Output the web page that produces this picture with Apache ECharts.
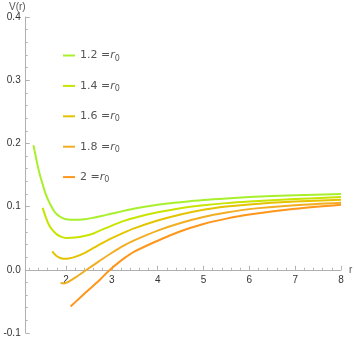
<!DOCTYPE html>
<html>
<head>
<meta charset="utf-8">
<script src="https://cdn.jsdelivr.net/npm/echarts@6/dist/echarts.min.js"></script>
<style>
  html, body { margin: 0; padding: 0; background: #fff; }
  #main { width: 354px; height: 340px; }
</style>
</head>
<body>
<div id="main"></div>
<script>
// r0 values for each curve (legend)
var r0Values = ['1.2', '1.4', '1.6', '1.8', '2'];
var colors = ['#a8f02c', '#c8e400', '#e4c400', '#f2ae22', '#fd961a'];

// curve samples: r and V(r)
var r1 = [1.29, 1.36, 1.43, 1.5, 1.56, 1.66, 1.76, 1.88, 2.0, 2.2, 2.4, 2.6, 2.8, 3.0, 3.5, 4, 4.5, 5, 5.5, 6, 7, 8];
var v1 = [0.197, 0.172, 0.150, 0.133, 0.119, 0.103, 0.091, 0.0835, 0.080, 0.079, 0.080, 0.0825, 0.0855, 0.089, 0.097, 0.103, 0.107, 0.1105, 0.113, 0.115, 0.118, 0.120];

var r2 = [1.49, 1.55, 1.62, 1.7, 1.8, 1.9, 2.0, 2.2, 2.4, 2.6, 2.8, 3.0, 3.25, 3.5, 4, 4.5, 5, 5.5, 6, 7, 8];
var v2 = [0.098, 0.085, 0.072, 0.063, 0.056, 0.052, 0.0505, 0.051, 0.0535, 0.0575, 0.064, 0.070, 0.077, 0.0825, 0.091, 0.0975, 0.102, 0.1055, 0.108, 0.112, 0.115];

var r3 = [1.70, 1.78, 1.86, 1.95, 2.05, 2.2, 2.4, 2.6, 2.8, 3.0, 3.25, 3.5, 4, 4.5, 5, 5.5, 6, 7, 8];
var v3 = [0.029, 0.0225, 0.019, 0.0175, 0.0178, 0.0205, 0.0265, 0.0345, 0.0425, 0.050, 0.0585, 0.066, 0.078, 0.0875, 0.095, 0.1, 0.1035, 0.108, 0.111];

var r4 = [1.88, 1.95, 2.05, 2.2, 2.45, 2.7, 3.0, 3.25, 3.5, 4, 4.5, 5, 5.5, 6, 7, 8];
var v4 = [-0.021, -0.0215, -0.019, -0.0125, 0.0, 0.0125, 0.027, 0.038, 0.047, 0.062, 0.074, 0.0835, 0.0905, 0.096, 0.102, 0.106];

var r5 = [2.10, 2.3, 2.52, 2.75, 2.96, 3.2, 3.5, 4, 4.5, 5, 5.5, 6, 7, 8];
var v5 = [-0.058, -0.0445, -0.030, -0.0148, 0.0, 0.0145, 0.029, 0.046, 0.061, 0.0725, 0.081, 0.0875, 0.0965, 0.103];

var xTicks = [2, 3, 4, 5, 6, 7, 8];
var xMinorTicks = [1.2, 1.4, 1.6, 1.8, 2.2, 2.4, 2.6, 2.8, 3.2, 3.4, 3.6, 3.8, 4.2, 4.4, 4.6, 4.8,
                   5.2, 5.4, 5.6, 5.8, 6.2, 6.4, 6.6, 6.8, 7.2, 7.4, 7.6, 7.8];

var rs = [r1, r2, r3, r4, r5];
var vs = [v1, v2, v3, v4, v5];

function pairs(r, v) {
  var out = [];
  for (var i = 0; i < r.length; i++) out.push([r[i], v[i]]);
  return out;
}

// grid box in pixels; the x axis is moved up to V = 0
var gridTop = 17, gridBottom = 7, H = 340;
var yMin = -0.1, yMax = 0.4;
var plotH = H - gridTop - gridBottom;
var zeroOffset = -plotH * (0 - yMin) / (yMax - yMin);

var myChart = echarts.init(document.getElementById('main'));

var legendRich = {
  n: { fontSize: 11, color: '#555', fontFamily: 'DejaVu Sans' },
  r: { fontSize: 11, color: '#555', fontStyle: 'italic', fontFamily: 'DejaVu Sans' },
  s: { fontSize: 8, color: '#555', fontFamily: 'DejaVu Sans', padding: [6, 0, 0, 0] }
};

var tickColor = '#b0b0b0';

var option = {
  animation: false,
  backgroundColor: '#fff',
  grid: { left: 25.7, right: 13, top: gridTop, bottom: gridBottom, containLabel: false, outerBoundsMode: 'none' },
  legend: r0Values.map(function (r0, i) {
    return {
      data: [r0 + ' =r0'],
      left: 58,
      top: 45 + i * 30.4,
      icon: 'rect',
      itemWidth: 12,
      itemHeight: 2,
      itemGap: 6,
      selectedMode: false,
      formatter: function () { return '{n|' + r0 + ' =}{r|r}{s|0}'; },
      textStyle: { rich: legendRich }
    };
  }),
  xAxis: [{
    type: 'value',
    min: 1.12,
    max: 8,
    offset: zeroOffset,
    name: 'r',
    nameLocation: 'end',
    nameGap: 8,
    nameTextStyle: { color: '#555', fontSize: 10, verticalAlign: 'middle' },
    axisLine: { onZero: false, lineStyle: { color: tickColor } },
    axisTick: { inside: true, length: 4, customValues: xTicks, lineStyle: { color: tickColor } },
    axisLabel: { customValues: xTicks, color: '#333', fontSize: 10, margin: 5 },
    splitLine: { show: false }
  }, {
    type: 'value',
    min: 1.12,
    max: 8,
    position: 'bottom',
    offset: zeroOffset,
    axisLine: { show: false, onZero: false },
    axisTick: { inside: true, length: 2, customValues: xMinorTicks, lineStyle: { color: tickColor } },
    axisLabel: { show: false },
    splitLine: { show: false }
  }],
  yAxis: {
    type: 'value',
    min: yMin,
    max: yMax,
    interval: 0.1,
    name: 'V(r)',
    nameLocation: 'end',
    nameGap: 4,
    nameTextStyle: { color: '#555', fontSize: 10, align: 'right' },
    axisLine: { show: true, onZero: false, lineStyle: { color: tickColor } },
    axisTick: { show: true, inside: true, length: 4, lineStyle: { color: tickColor } },
    minorTick: { show: true, splitNumber: 5, length: 2, lineStyle: { color: tickColor } },
    axisLabel: {
      color: '#333',
      fontSize: 10,
      margin: 5,
      formatter: function (v) { return v.toFixed(1); }
    },
    splitLine: { show: false }
  },
  series: rs.map(function (r, i) {
    return {
      name: r0Values[i] + ' =r0',
      type: 'line',
      smooth: 0.3,
      showSymbol: false,
      data: pairs(r, vs[i]),
      lineStyle: { width: 2, color: colors[i] },
      itemStyle: { color: colors[i] }
    };
  })
};

myChart.setOption(option);
</script>
</body>
</html>
